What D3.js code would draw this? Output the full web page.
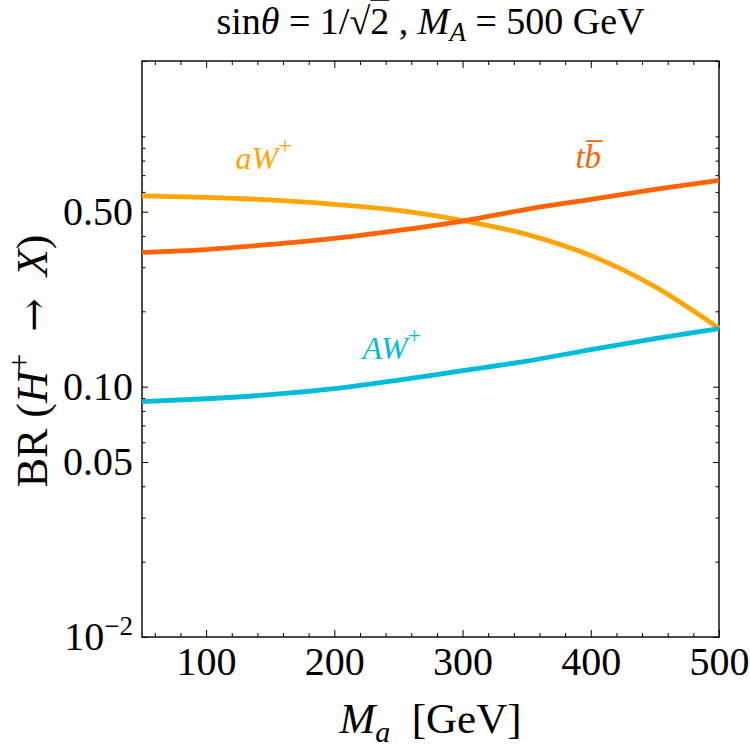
<!DOCTYPE html>
<html>
<head>
<meta charset="utf-8">
<script src="https://cdn.jsdelivr.net/npm/d3@7"></script>
<style>
    body { margin: 0; background: #fff; }
    svg text { font-family: 'Liberation Serif', 'Times New Roman', serif; fill: #000; }
    .axis path { display: none; }
    .axis line { stroke: #000; stroke-width: 1; }
</style>
</head>
<body>
<svg width="750" height="750"></svg>
<script>
// M_a in GeV
const massA = [50, 100, 150, 200, 250, 300, 350, 400, 450, 500];
// branching ratios
const brSmallAW = [0.578, 0.570, 0.557, 0.535, 0.506, 0.461, 0.406, 0.334, 0.251, 0.171];
const brTopBottom = [0.344, 0.353, 0.370, 0.391, 0.421, 0.459, 0.511, 0.560, 0.614, 0.667];
const brBigAW = [0.0871, 0.0895, 0.0929, 0.0982, 0.1062, 0.1159, 0.1265, 0.1406, 0.1556, 0.1706];

const xMajor = [100, 200, 300, 400, 500];
const xMinor = [60, 80, 120, 140, 160, 180, 220, 240, 260, 280, 320, 340, 360, 380, 420, 440, 460, 480];
const yMajor = [0.01, 0.05, 0.1, 0.5];
const yMinor = [0.02, 0.03, 0.04, 0.06, 0.07, 0.08, 0.09, 0.2, 0.3, 0.4, 0.6, 0.7, 0.8, 0.9, 1, 2];

const svg = d3.select('svg');

const marginLeft = 142, plotRight = 719, marginTop = 61, plotBottom = 637;
const width = plotRight - marginLeft;
const height = plotBottom - marginTop;
const tickFont = 40;

const chart = svg.append('g')
    .attr('transform', `translate(${marginLeft}, ${marginTop})`);

const xScale = d3.scaleLinear()
    .domain([50, 500])
    .range([0, width]);

const yScale = d3.scaleLog()
    .domain([0.01, 2])
    .range([height, 0]);

// bottom / left with labels, ticks pointing inward
chart.append('g')
    .attr('class', 'axis')
    .attr('transform', `translate(0, ${height})`)
    .call(d3.axisBottom(xScale).tickValues(xMajor).tickSize(-7).tickPadding(10).tickFormat(d3.format('d')))
    .attr('font-size', tickFont)
    .attr('font-family', null);
chart.append('g')
    .attr('class', 'axis')
    .attr('transform', `translate(0, ${height})`)
    .call(d3.axisBottom(xScale).tickValues(xMinor).tickSize(-4).tickFormat(''));

const yAxis = chart.append('g')
    .attr('class', 'axis')
    .call(d3.axisLeft(yScale).tickValues(yMajor).tickSize(-6).tickPadding(9)
        .tickFormat(d => d === 0.01 ? '' : d3.format('.2f')(d)))
    .attr('font-size', tickFont)
    .attr('font-family', null);
chart.append('g')
    .attr('class', 'axis')
    .call(d3.axisLeft(yScale).tickValues(yMinor).tickSize(-3.5).tickFormat(''));

const tenTick = yAxis.selectAll('.tick text').filter(d => d === 0.01);
tenTick.append('tspan').text('10');
tenTick.append('tspan').attr('dy', -15).attr('font-size', 27).text('\u22122');

// mirrored ticks on top and right
chart.append('g')
    .attr('class', 'axis')
    .call(d3.axisTop(xScale).tickValues(xMajor).tickSize(-7).tickFormat(''));
chart.append('g')
    .attr('class', 'axis')
    .call(d3.axisTop(xScale).tickValues(xMinor).tickSize(-4).tickFormat(''));
chart.append('g')
    .attr('class', 'axis')
    .attr('transform', `translate(${width}, 0)`)
    .call(d3.axisRight(yScale).tickValues(yMajor).tickSize(-6).tickFormat(''));
chart.append('g')
    .attr('class', 'axis')
    .attr('transform', `translate(${width}, 0)`)
    .call(d3.axisRight(yScale).tickValues(yMinor).tickSize(-3.5).tickFormat(''));

chart.append('rect')
    .attr('width', width)
    .attr('height', height)
    .attr('fill', 'none')
    .attr('stroke', '#000')
    .attr('stroke-width', 1.4);

const series = [
    { name: 'aW', values: brSmallAW, color: '#ffa500' },
    { name: 'tb', values: brTopBottom, color: '#ff6400' },
    { name: 'AW', values: brBigAW, color: '#00bcdb' }
];

const line = d3.line()
    .x((d, i) => xScale(massA[i]))
    .y(d => yScale(d))
    .curve(d3.curveMonotoneX);

chart.selectAll('.curve')
    .data(series)
    .enter()
    .append('path')
    .attr('class', 'curve')
    .attr('fill', 'none')
    .attr('stroke', s => s.color)
    .attr('stroke-width', 4.8)
    .attr('d', s => line(s.values));

// curve labels
const aLab = chart.append('text')
    .attr('x', xScale(123))
    .attr('y', yScale(0.74))
    .attr('font-size', 32)
    .style('fill', '#ffa500');
aLab.append('tspan').attr('font-style', 'italic').text('aW');
aLab.append('tspan').attr('dy', -16).attr('font-size', 24).text('+');

const tLab = chart.append('text')
    .attr('x', xScale(388))
    .attr('y', yScale(0.75))
    .attr('font-size', 33)
    .attr('font-style', 'italic')
    .style('fill', '#ff6400');
tLab.append('tspan').text('t');
tLab.append('tspan').text('b\u0305');

const ALab = chart.append('text')
    .attr('x', xScale(222))
    .attr('y', yScale(0.129))
    .attr('font-size', 32)
    .style('fill', '#00bcdb');
ALab.append('tspan').attr('font-style', 'italic').text('AW');
ALab.append('tspan').attr('dy', -16).attr('font-size', 24).text('+');

// title
const title = svg.append('text')
    .attr('x', marginLeft + width / 2)
    .attr('y', 34)
    .attr('text-anchor', 'middle')
    .attr('font-size', 38);
title.append('tspan').text('sin');
title.append('tspan').attr('font-style', 'italic').text('\u03b8');
title.append('tspan').text(' = 1/\u221a');
title.append('tspan').style('text-decoration', 'overline').text('2');
title.append('tspan').text(' , ');
title.append('tspan').attr('font-style', 'italic').text('M');
title.append('tspan').attr('font-style', 'italic').attr('font-size', 27).attr('dy', 7).text('A');
title.append('tspan').attr('dy', -7).text(' = 500 GeV');

// axis titles
const xLab = svg.append('text')
    .attr('x', marginLeft + width / 2)
    .attr('y', 733)
    .attr('text-anchor', 'middle')
    .attr('font-size', 43);
xLab.append('tspan').attr('font-style', 'italic').text('M');
xLab.append('tspan').attr('font-style', 'italic').attr('font-size', 30).attr('dy', 9).text('a');
xLab.append('tspan').attr('dy', -9).text('\u2002[GeV]');

const yLab = svg.append('text')
    .attr('transform', `translate(47, ${marginTop + height / 2 + 12}) rotate(-90)`)
    .attr('text-anchor', 'middle')
    .attr('font-size', 44);
yLab.append('tspan').text('BR (');
yLab.append('tspan').attr('font-style', 'italic').text('H');
yLab.append('tspan').attr('dy', -17).attr('font-size', 31).text('+');
yLab.append('tspan').attr('dy', 17).text('\u2002');
yLab.append('tspan').attr('font-family', 'DejaVu Serif').attr('font-size', 40).text('\u2192');
yLab.append('tspan').text('\u2002');
yLab.append('tspan').attr('font-style', 'italic').text('X');
yLab.append('tspan').text(')');
</script>
</body>
</html>
